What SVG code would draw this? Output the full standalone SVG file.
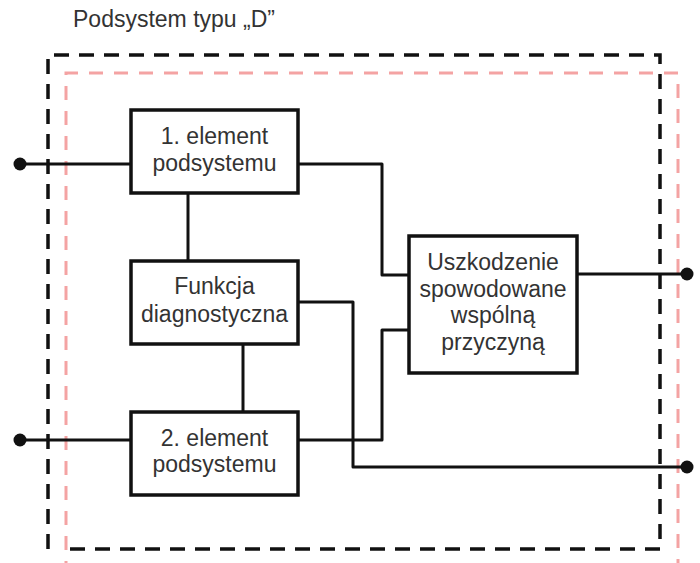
<svg xmlns="http://www.w3.org/2000/svg" width="700" height="563" viewBox="0 0 700 563">
<style>
.box{fill:#fff;stroke:#111;stroke-width:3.5}
.t{font-family:"Liberation Sans",Arial,sans-serif;font-size:23px;fill:#333;text-anchor:middle}
.title{font-family:"Liberation Sans",Arial,sans-serif;font-size:23px;fill:#333}
.w{fill:none;stroke:#111;stroke-width:3;stroke-linejoin:round}
.dot{fill:#111}
.bd{fill:none;stroke:#111;stroke-width:3.5;stroke-dasharray:15 10}
.rd{fill:none;stroke:#f4a3a3;stroke-width:3;stroke-dasharray:14 11}
</style>
<rect width="700" height="563" fill="#fff"/>
<text class="title" x="73" y="27">Podsystem typu „D”</text>
<g id="boundaries">
<path class="bd" d="M48,549 V55 H660 V549 H60"/>
<path class="rd" d="M66,575 V73 H678 V575"/>
</g>
<g id="connectors">
<path class="w" d="M20,164 H131"/>
<path class="w" d="M20,440 H131"/>
<path class="w" d="M298,164 H382 V275 H409"/>
<path class="w" d="M188,193 V261"/>
<path class="w" d="M243,344 V412"/>
<path class="w" d="M298,302 H353 V467 H687"/>
<path class="w" d="M298,440 H382 V330 H409"/>
<path class="w" d="M577,274 H687"/>
<circle class="dot" cx="20" cy="164" r="6.5"/>
<circle class="dot" cx="20" cy="440" r="6.5"/>
<circle class="dot" cx="687" cy="274" r="6.5"/>
<circle class="dot" cx="687" cy="467" r="6.5"/>
</g>
<g id="element1">
<rect class="box" x="131" y="110" width="167" height="83"/>
<text class="t" x="214.5" y="144">1. element</text>
<text class="t" x="214.5" y="171">podsystemu</text>
</g>
<g id="diagnostics">
<rect class="box" x="131" y="261" width="167" height="83"/>
<text class="t" x="214.5" y="294">Funkcja</text>
<text class="t" x="214.5" y="322">diagnostyczna</text>
</g>
<g id="element2">
<rect class="box" x="131" y="412" width="167" height="83"/>
<text class="t" x="214.5" y="446">2. element</text>
<text class="t" x="214.5" y="472">podsystemu</text>
</g>
<g id="ccf">
<rect class="box" x="409" y="236" width="168" height="137"/>
<text class="t" x="493" y="270">Uszkodzenie</text>
<text class="t" x="493" y="297">spowodowane</text>
<text class="t" x="493" y="323">wspólną</text>
<text class="t" x="493" y="350">przyczyną</text>
</g>
</svg>
